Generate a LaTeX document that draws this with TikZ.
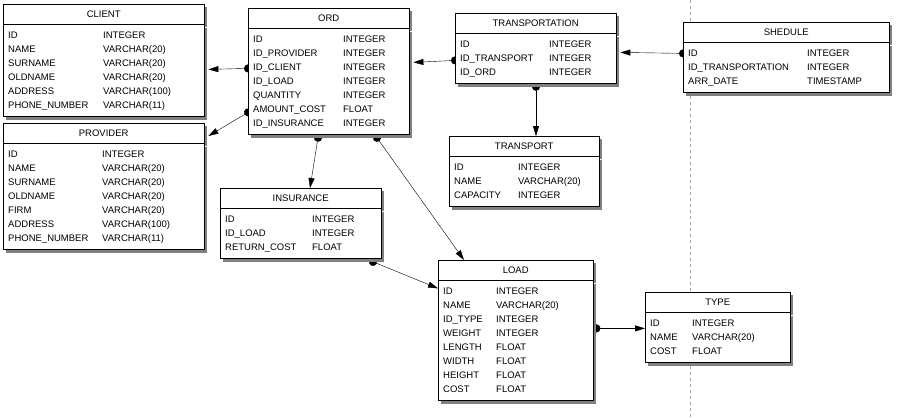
\documentclass[tikz,border=0pt]{standalone}
\usepackage{fontspec}
\setmainfont{Liberation Sans}
\usetikzlibrary{arrows.meta,shadows,backgrounds}
\newcommand{\tblfont}{\fontsize{9.5}{14}\selectfont}

\begin{document}
\begin{tikzpicture}[x=1pt, y=-1pt,
        shade/.style={drop shadow={shadow xshift=3pt, shadow yshift=-3pt, fill=black!50, opacity=1}},
        thead/.style={draw, fill=white, anchor=north west, minimum height=20pt, inner sep=0pt, font=\tblfont, shade},
        tbody/.style={draw, fill=white, anchor=north west, inner xsep=5pt, inner ysep=4pt, align=left, font=\tblfont, shade},
        rel/.style={{Circle[length=8pt]}-{Triangle[length=10pt, width=6pt]}, shorten <=-4pt}]

        \useasboundingbox (0,0) rectangle (898,418);

        % Trennlinie
        \draw[black!35, dashed] (690,0) -- (690,418);

        % CLIENT
        \node[thead, minimum width=201pt] (client-h) at (3,4) {CLIENT};
        \node[tbody, text width=191pt] (client) at (client-h.south west) {\begin{tabular}{@{}p{95pt}@{}l@{}}
            ID & INTEGER\\ NAME & VARCHAR(20)\\ SURNAME & VARCHAR(20)\\ OLDNAME & VARCHAR(20)\\
            ADDRESS & VARCHAR(100)\\ PHONE\_NUMBER & VARCHAR(11)\end{tabular}};

        % PROVIDER
        \node[thead, minimum width=201pt] (provider-h) at (3,123) {PROVIDER};
        \node[tbody, text width=191pt] (provider) at (provider-h.south west) {\begin{tabular}{@{}p{94pt}@{}l@{}}
            ID & INTEGER\\ NAME & VARCHAR(20)\\ SURNAME & VARCHAR(20)\\ OLDNAME & VARCHAR(20)\\
            FIRM & VARCHAR(20)\\ ADDRESS & VARCHAR(100)\\ PHONE\_NUMBER & VARCHAR(11)\end{tabular}};

        % ORD
        \node[thead, minimum width=161pt] (ord-h) at (248,8) {ORD};
        \node[tbody, text width=151pt] (ord) at (ord-h.south west) {\begin{tabular}{@{}p{90pt}@{}l@{}}
            ID & INTEGER\\ ID\_PROVIDER & INTEGER\\ ID\_CLIENT & INTEGER\\ ID\_LOAD & INTEGER\\
            QUANTITY & INTEGER\\ AMOUNT\_COST & FLOAT\\ ID\_INSURANCE & INTEGER\end{tabular}};

        % TRANSPORTATION
        \node[thead, minimum width=161pt] (transportation-h) at (455,13) {TRANSPORTATION};
        \node[tbody, text width=151pt] (transportation) at (transportation-h.south west) {\begin{tabular}{@{}p{89pt}@{}l@{}}
            ID & INTEGER\\ ID\_TRANSPORT & INTEGER\\ ID\_ORD & INTEGER\end{tabular}};

        % SHEDULE
        \node[thead, minimum width=206pt] (shedule-h) at (683,22) {SHEDULE};
        \node[tbody, text width=196pt] (shedule) at (shedule-h.south west) {\begin{tabular}{@{}p{119pt}@{}l@{}}
            ID & INTEGER\\ ID\_TRANSPORTATION & INTEGER\\ ARR\_DATE & TIMESTAMP\end{tabular}};

        % TRANSPORT
        \node[thead, minimum width=150pt] (transport-h) at (449,136) {TRANSPORT};
        \node[tbody, text width=140pt] (transport) at (transport-h.south west) {\begin{tabular}{@{}p{64pt}@{}l@{}}
            ID & INTEGER\\ NAME & VARCHAR(20)\\ CAPACITY & INTEGER\end{tabular}};

        % INSURANCE
        \node[thead, minimum width=161pt] (insurance-h) at (220,188) {INSURANCE};
        \node[tbody, text width=151pt] (insurance) at (insurance-h.south west) {\begin{tabular}{@{}p{87pt}@{}l@{}}
            ID & INTEGER\\ ID\_LOAD & INTEGER\\ RETURN\_COST & FLOAT\end{tabular}};

        % LOAD
        \node[thead, minimum width=155pt] (load-h) at (438,260) {LOAD};
        \node[tbody, text width=145pt] (load) at (load-h.south west) {\begin{tabular}{@{}p{53pt}@{}l@{}}
            ID & INTEGER\\ NAME & VARCHAR(20)\\ ID\_TYPE & INTEGER\\ WEIGHT & INTEGER\\
            LENGTH & FLOAT\\ WIDTH & FLOAT\\ HEIGHT & FLOAT\\ COST & FLOAT\end{tabular}};

        % TYPE
        \node[thead, minimum width=145pt] (type-h) at (645,292) {TYPE};
        \node[tbody, text width=135pt] (type) at (type-h.south west) {\begin{tabular}{@{}p{42pt}@{}l@{}}
            ID & INTEGER\\ NAME & VARCHAR(20)\\ COST & FLOAT\end{tabular}};

        % Beziehungen
        \begin{pgfonlayer}{background}
        \draw[rel] ([yshift=-40pt]ord.north west) -- ([xshift=4pt, yshift=-45pt]client.north east);
        \draw[rel] ([yshift=-84pt]ord.north west) -- ([xshift=4pt, yshift=-13pt]provider-h.north east);
        \draw[rel] ([yshift=-27pt]transportation.north west) -- ([xshift=4pt, yshift=-34pt]ord.north east);
        \draw[rel] ([yshift=-11pt]shedule.north west) -- ([xshift=4pt, yshift=-19pt]transportation.north east);
        \draw[rel] ([xshift=81pt, yshift=-3pt]transportation.south west) -- ([xshift=87pt]transport-h.north west);
        \draw[rel] ([xshift=70pt, yshift=-3pt]ord.south west) -- ([xshift=90pt]insurance-h.north west);
        \draw[rel] ([xshift=129pt, yshift=-3pt]ord.south west) -- ([xshift=26pt]load-h.north west);
        \draw[rel] ([xshift=153pt, yshift=-3pt]insurance.south west) -- ([yshift=-8pt]load.north west);
        \draw[rel] ([xshift=3pt, yshift=-48pt]load.north east) -- ([yshift=-16pt]type.north west);
        \end{pgfonlayer}
    \end{tikzpicture}
\end{document}
